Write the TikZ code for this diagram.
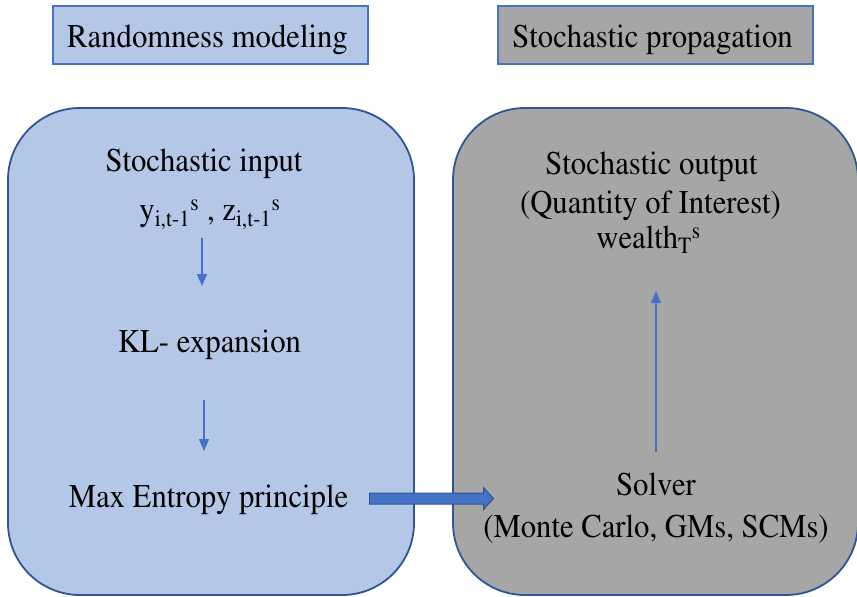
\documentclass[tikz,border=0pt]{standalone}
\usepackage[T1]{fontenc}
\usepackage{times}
\usepackage{graphicx}
\usetikzlibrary{arrows.meta,calc}
\definecolor{lightblue}{HTML}{B4C7E7}
\definecolor{midgray}{HTML}{A6A6A6}
\definecolor{darkblue}{HTML}{2F5597}
\definecolor{arrowblue}{HTML}{4472C4}
\newcommand{\tallt}[1]{\scalebox{1}[1.08]{#1}}
\tikzset{
  txt/.style={font=\fontsize{30.7}{36}\selectfont, inner sep=0pt, anchor=base, text=black},
  labelbox/.style={draw=arrowblue, line width=1.3pt},
  bigbox/.style={draw=darkblue, line width=1.8pt, rounded corners=72pt},
  smallarr/.style={draw=arrowblue, line width=1.6pt, -{Triangle[width=10pt,length=12pt]}},
}
\begin{document}
\begin{tikzpicture}[x=1pt,y=-1pt]
\useasboundingbox (0,0) rectangle (857,597);
\fill[white] (0,0) rectangle (857,597);
\clip (0,0) rectangle (857,597);
% header boxes
\filldraw[labelbox, fill=lightblue] (53,6) rectangle (368,64);
\filldraw[labelbox, fill=midgray] (498,6) rectangle (813,64);
\node[txt] (hleft) at (207.5,47) {\tallt{Randomness modeling}};
\node[txt] (hright) at (652.5,47) {\tallt{Stochastic propagation}};
% big boxes
\filldraw[bigbox, fill=lightblue] (8,108) rectangle (414,595);
\filldraw[bigbox, fill=midgray] (453,108) rectangle (858,595);
% left texts
\node[txt] (input) at (204,171) {\tallt{Stochastic input}};
\node[txt] (vars) at (210,220) {\tallt{y\textsubscript{i,t-1}\textsuperscript{s} , z\textsubscript{i,t-1}\textsuperscript{s}}};
\node[txt] (kl) at (209.5,352) {\tallt{KL- expansion}};
\node[txt] (maxent) at (208.5,507) {\tallt{Max Entropy principle}};
% right texts
\node[txt] (output) at (651.5,174) {\tallt{Stochastic output}};
\node[txt] (qoi) at (650.5,213) {\tallt{(Quantity of Interest)}};
\node[txt] (wealth) at (648.5,248) {\tallt{wealth\textsubscript{T}\textsuperscript{s}}};
\node[txt] (solver) at (656,495) {\tallt{Solver}};
\node[txt] (methods) at (656,537) {\tallt{(Monte Carlo, GMs, SCMs)}};
% small arrows
\coordinate (a1s) at (202,238);
\coordinate (a1e) at (202,286);
\coordinate (a2s) at (204,400);
\coordinate (a2e) at (204,451);
\coordinate (a3s) at (656,452);
\coordinate (a3e) at (656,291);
\draw[smallarr] (a1s) -- (a1e);
\draw[smallarr] (a2s) -- (a2e);
\draw[smallarr] (a3s) -- (a3e);
% block arrow
\coordinate (bs) at (369.5,498.5);
\coordinate (be) at (493.5,498.5);
\filldraw[fill=arrowblue, draw=darkblue, line width=1pt]
  ($(bs)+(0,-5.5)$) -- ($(be)+(-10,-5.5)$) -- ($(be)+(-10,-11)$) -- (be)
  -- ($(be)+(-10,11)$) -- ($(be)+(-10,5.5)$) -- ($(bs)+(0,5.5)$) -- cycle;
\end{tikzpicture}
\end{document}
